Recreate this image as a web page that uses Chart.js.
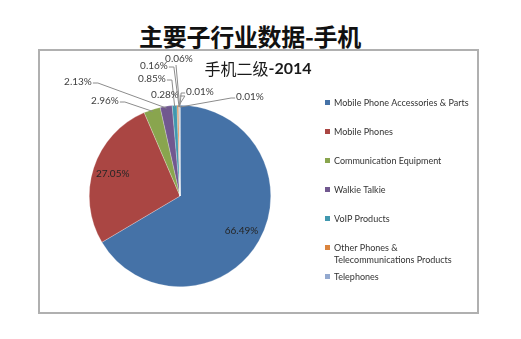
<!DOCTYPE html>
<html>
<head>
<meta charset="utf-8">
<script src="https://cdn.jsdelivr.net/npm/chart.js@4"></script>
<style>
  html, body { margin: 0; padding: 0; background: #fff; }
  body { width: 521px; height: 339px; position: relative; overflow: hidden; }
  #heading {
    position: absolute; left: 0; width: 500px; top: 20px;
    text-align: center; font: bold 24px "Noto Sans CJK SC", sans-serif;
    color: #111; line-height: 32px; letter-spacing: -0.3px;
  }
  #frame {
    position: absolute; left: 38px; top: 49px; width: 437px; height: 261px;
    border: 2px solid #b0b0b0;
  }
  #chart { position: absolute; left: 0; top: 0; }
</style>
</head>
<body>
<div id="heading">主要子行业数据-手机</div>
<div id="frame"></div>
<canvas id="chart" width="521" height="339"></canvas>
<script>
// Категории (в легенде показаны только первые семь)
const categories = [
    'Mobile Phone Accessories & Parts',
    'Mobile Phones',
    'Communication Equipment',
    'Walkie Talkie',
    'VoIP Products',
    'Other Phones &\nTelecommunications Products',
    'Telephones'
];
// Доли, %
const shares = [66.49, 27.05, 2.96, 2.13, 0.85, 0.28, 0.16, 0.06, 0.01, 0.01];
const colors = ['#4572A7', '#AA4643', '#89A54E', '#71588F', '#4198AF', '#DB843D', '#93A9CF',
                '#2C4D75', '#772C2A', '#5F7530'];

// Смещения подписей от центра круга и сторона выноски
const labelLayout = [
    null, null,
    { dx: -75, dy: -95, side: 'r' },
    { dx: -102, dy: -114, side: 'r' },
    { dx: -28, dy: -117, side: 'r' },
    { dx: -15, dy: -101, side: 'r' },
    { dx: -26, dy: -130, side: 'r' },
    { dx: -1, dy: -137, side: 'b' },
    { dx: 20, dy: -104, side: 'l' },
    { dx: 70, dy: -99, side: 'l' }
];

const labelFont = '10px Lato, "Open Sans", sans-serif';

const pieLabels = {
    id: 'pieLabels',
    afterDatasetsDraw(chart) {
        const ctx = chart.ctx;
        const arcs = chart.getDatasetMeta(0).data;
        ctx.save();
        ctx.font = labelFont;
        ctx.textAlign = 'center';
        ctx.textBaseline = 'middle';
        arcs.forEach((arc, i) => {
            const text = shares[i].toFixed(2) + '%';
            const mid = (arc.startAngle + arc.endAngle) / 2;
            const R = arc.outerRadius;
            const layout = labelLayout[i];
            if (!layout) {
                // крупные сектора — подпись внутри
                ctx.fillStyle = '#262626';
                ctx.fillText(text, arc.x + Math.cos(mid) * R * 0.78, arc.y + Math.sin(mid) * R * 0.78);
                return;
            }
            const lx = arc.x + layout.dx;
            const ly = arc.y + layout.dy;
            const w = ctx.measureText(text).width;
            const ax = arc.x + Math.cos(mid) * R * 0.98;
            const ay = arc.y + Math.sin(mid) * R * 0.98;
            ctx.strokeStyle = '#8c8c8c';
            ctx.lineWidth = 1;
            ctx.beginPath();
            if (layout.side === 'r') {
                ctx.moveTo(lx + w / 2 + 1, ly + 1);
                ctx.lineTo(lx + w / 2 + 6, ly + 1);
            } else if (layout.side === 'l') {
                ctx.moveTo(lx - w / 2 - 1, ly + 1);
                ctx.lineTo(lx - w / 2 - 5, ly + 1);
            } else {
                ctx.moveTo(lx - 3, ly + 6);
            }
            ctx.lineTo(ax, ay);
            ctx.stroke();
            ctx.fillStyle = '#404040';
            ctx.fillText(text, lx, ly);
        });

        // заголовок диаграммы
        const t1 = '手机二级', t2 = '-2014';
        ctx.textAlign = 'left';
        ctx.textBaseline = 'middle';
        ctx.font = '16px "Noto Sans CJK SC", sans-serif';
        const w1 = ctx.measureText(t1).width;
        ctx.font = 'bold 16px Lato, "Open Sans", sans-serif';
        const w2 = ctx.measureText(t2).width;
        const tx = 258 - (w1 + w2) / 2;
        ctx.fillStyle = '#1a1a1a';
        ctx.font = '16px "Noto Sans CJK SC", sans-serif';
        ctx.fillText(t1, tx, 69);
        ctx.font = 'bold 16px Lato, "Open Sans", sans-serif';
        ctx.fillText(t2, tx + w1, 69);

        // легенда
        ctx.font = '9px Lato, "Open Sans", sans-serif';
        categories.forEach((name, i) => {
            const y = 103 + i * 29;
            ctx.fillStyle = colors[i];
            ctx.fillRect(325, y - 3, 5, 5);
            ctx.fillStyle = '#333';
            name.split('\n').forEach((line, k) => {
                ctx.fillText(line, 334, y + k * 12);
            });
        });
        ctx.restore();
    }
};

new Chart(document.getElementById('chart'), {
    type: 'pie',
    data: {
        labels: shares.map((v, i) => categories[i] || ''),
        datasets: [{
            data: shares,
            backgroundColor: colors,
            borderColor: 'rgba(255,255,255,0.5)',
            borderWidth: 0.5
        }]
    },
    options: {
        responsive: false,
        devicePixelRatio: 1,
        animation: false,
        layout: { padding: { left: 89, right: 250, top: 105, bottom: 52 } },
        plugins: {
            legend: { display: false },
            tooltip: { enabled: false },
            title: { display: false }
        }
    },
    plugins: [pieLabels]
});
</script>
</body>
</html>
